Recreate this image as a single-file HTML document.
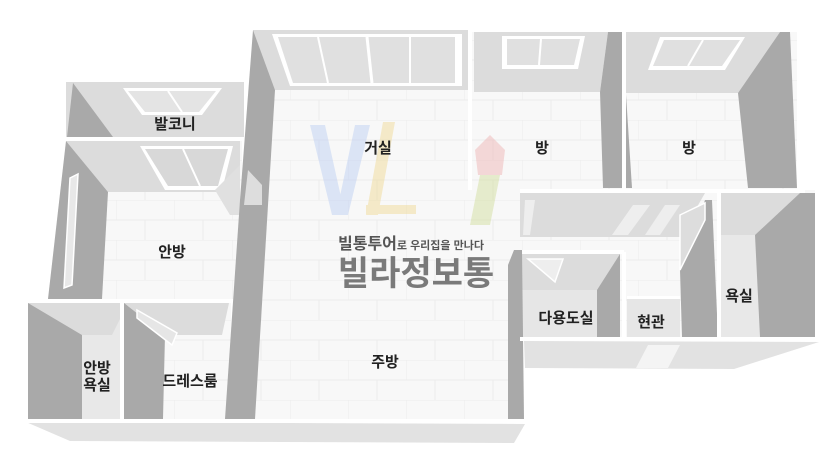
<!DOCTYPE html>
<html><head><meta charset="utf-8"><style>
html,body{margin:0;padding:0;background:#fff;width:840px;height:472px;overflow:hidden}
svg{display:block}
text{font-family:"Liberation Sans","Noto Sans CJK KR",sans-serif;font-weight:bold;fill:#222}
</style></head><body>
<svg width="840" height="472" viewBox="0 0 840 472" xmlns="http://www.w3.org/2000/svg">
<defs>
<pattern id="tile" width="58" height="40" patternUnits="userSpaceOnUse">
<rect width="58" height="40" fill="#f8f8f8"/>
<path d="M0 0H58M0 20H58M0 0V20M29 20V40" stroke="#ececec" stroke-width="1" fill="none"/>
</pattern>
</defs>
<!-- floors -->
<rect x="66" y="82" width="180" height="55" fill="#dcdcdc"/>
<polygon points="66,141 242,141 242,299 48,299" fill="url(#tile)"/>
<polygon points="253,30 470,30 470,190 520,190 520,420 225,420 240,200" fill="url(#tile)"/>
<rect x="470" y="32" width="327" height="160" fill="url(#tile)"/>
<rect x="520" y="190" width="295" height="150" fill="url(#tile)"/>
<rect x="28" y="302" width="203" height="120" fill="url(#tile)"/>
<!-- balcony -->
<polygon points="73,83 67,137 113,137" fill="#a9a9a9"/>
<polygon points="123,88 222,88 202,115 142,115" fill="#fff"/>
<polygon points="128,91 216,91 199,112 145,112" fill="#e4e4e4"/>
<line x1="168" y1="91" x2="182" y2="112" stroke="#fff" stroke-width="2"/>
<rect x="244" y="82" width="3" height="56" fill="#fff"/>
<!-- 안방 -->
<polygon points="66,141 240,141 240,192 108,192" fill="#dcdcdc"/>
<polygon points="66,141 108,192 102,299 48,299" fill="#a9a9a9"/>
<polygon points="70,178 78,174 72,285 64,288" fill="#e8e8e8" stroke="#fff" stroke-width="1.5"/>
<polygon points="140,146 233,146 222,190 165,190" fill="#fff"/>
<polygon points="145,149 228,149 218,186 168,186" fill="#d8d8d8"/>
<line x1="183" y1="149" x2="200" y2="186" stroke="#fff" stroke-width="2"/>
<polygon points="215,190 240,165 240,215 230,215" fill="#e0e0e0"/>
<!-- living wall -->
<polygon points="253,30 470,30 470,90 275,90" fill="#dcdcdc"/>
<polygon points="253,30 275,90 255,419 225,419 240,200" fill="#a9a9a9"/>
<polygon points="248,170 262,185 262,205 244,205" fill="#ddd"/>
<polygon points="272,34 462,34 462,86 290,86" fill="#fff"/>
<polygon points="278,37 455,37 455,83 293,83" fill="#e0e0e0"/>
<line x1="318" y1="37" x2="328" y2="83" stroke="#fff" stroke-width="2"/>
<line x1="367" y1="37" x2="372" y2="83" stroke="#fff" stroke-width="3"/>
<line x1="410" y1="37" x2="410" y2="83" stroke="#fff" stroke-width="2"/>
<rect x="468" y="30" width="4" height="160" fill="#fff"/>
<!-- 방1 -->
<polygon points="474,32 608,32 600,92 474,92" fill="#dcdcdc"/>
<polygon points="608,32 622,32 632,188 603,188 600,92" fill="#a9a9a9"/>
<polygon points="502,36 585,36 578,69 502,69" fill="#fff"/>
<polygon points="507,39 580,39 574,65 507,65" fill="#e0e0e0"/>
<line x1="541" y1="39" x2="539" y2="65" stroke="#fff" stroke-width="2"/>
<rect x="622" y="32" width="4" height="158" fill="#fff"/>
<!-- 방2 -->
<polygon points="626,32 780,32 738,93 626,93" fill="#dcdcdc"/>
<polygon points="780,32 790,32 797,188 748,188 738,93" fill="#a9a9a9"/>
<polygon points="660,37 745,37 725,70 648,70" fill="#fff"/>
<polygon points="664,40 740,40 722,66 653,66" fill="#e0e0e0"/>
<line x1="703" y1="40" x2="688" y2="66" stroke="#fff" stroke-width="2"/>
<!-- middle strip -->
<rect x="520" y="189" width="285" height="4" fill="#fff"/>
<polygon points="520,193 705,193 680,237 520,237" fill="#dcdcdc"/>
<polygon points="525,200 523,235 530,235 535,200" fill="#eee"/>
<polygon points="633,205 650,205 628,235 612,235" fill="#eee"/>
<polygon points="665,205 680,205 660,235 645,235" fill="#eee"/>
<!-- 다용도실 -->
<rect x="518" y="250" width="106" height="4" fill="#fff"/>
<rect x="520" y="254" width="100" height="83" fill="#e6e6e6"/>
<polygon points="520,254 620,254 597,290 520,290" fill="#dcdcdc"/>
<polygon points="620,254 620,337 597,337 597,290" fill="#a9a9a9"/>
<polygon points="528,259 563,259 555,282" fill="#eee" stroke="#fff" stroke-width="1.5"/>
<rect x="622" y="252" width="4" height="86" fill="#fff"/>
<!-- 현관 -->
<rect x="627" y="298" width="53" height="40" fill="#e6e6e6"/>
<rect x="627" y="296" width="53" height="3" fill="#fff"/>
<polygon points="705,200 712,200 718,337 682,337 680,270" fill="#a9a9a9"/>
<polygon points="680,215 705,203 705,220 680,270" fill="#ddd" stroke="#fff" stroke-width="1.5"/>
<!-- 욕실 -->
<rect x="717" y="193" width="4" height="145" fill="#fff"/>
<rect x="721" y="193" width="94" height="145" fill="#e8e8e8"/>
<polygon points="721,193 800,193 755,235 721,235" fill="#dcdcdc"/>
<polygon points="800,193 815,193 815,337 760,337 755,235" fill="#a9a9a9"/>
<!-- kitchen right wall -->
<polygon points="514,250 522,250 524,419 508,419 508,265" fill="#a9a9a9"/>
<!-- 안방욕실 / 드레스룸 -->
<rect x="20" y="299" width="212" height="4" fill="#fff"/>
<rect x="28" y="303" width="100" height="116" fill="#e8e8e8"/>
<polygon points="28,303 128,303 112,335 82,335" fill="#dcdcdc"/>
<polygon points="28,303 82,335 82,419 28,419" fill="#a9a9a9"/>
<rect x="120" y="303" width="4" height="116" fill="#fff"/>
<polygon points="124,303 229,303 222,335 165,335" fill="#dcdcdc"/>
<polygon points="124,303 165,335 163,419 124,419" fill="#a9a9a9"/>
<polygon points="137,310 177,333 172,345 137,318" fill="#e6e6e6" stroke="#fff" stroke-width="1.5"/>
<!-- front walls -->
<polygon points="26,422 525,424 514,443 70,441" fill="#e2e2e2"/>
<rect x="20" y="419" width="505" height="4" fill="#fff"/>
<polygon points="524,341 819,342 734,369 525,368" fill="#e2e2e2"/>
<rect x="520" y="337" width="298" height="4" fill="#fff"/>
<polygon points="648,345 680,345 668,368 636,368" fill="#f4f4f4"/>
<!-- watermark logo -->
<g opacity="0.45">
<polygon points="310,125 325,125 345,215 332,215" fill="#b8cdf2"/>
<polygon points="355,125 370,125 348,215 336,215" fill="#b8cdf2"/>
<polygon points="383,122 395,122 378,215 366,215" fill="#f0d890"/>
<rect x="366" y="205" width="50" height="9" fill="#f0d890"/>
<polygon points="475,150 490,135 505,150 502,175 478,175" fill="#eeb0b0"/>
<polygon points="480,175 500,175 490,225 470,225" fill="#d0dc98"/>
</g>
<!-- labels -->
<text x="175" y="129" font-size="15" text-anchor="middle">발코니</text>
<text x="378" y="153" font-size="15" text-anchor="middle">거실</text>
<text x="542" y="153" font-size="15" text-anchor="middle">방</text>
<text x="689" y="153" font-size="15" text-anchor="middle">방</text>
<text x="172" y="257" font-size="15" text-anchor="middle">안방</text>
<text x="385" y="367" font-size="15" text-anchor="middle">주방</text>
<text x="97" y="373" font-size="15" text-anchor="middle">안방</text>
<text x="97" y="390" font-size="15" text-anchor="middle">욕실</text>
<text x="190" y="386" font-size="15" text-anchor="middle">드레스룸</text>
<text x="566" y="323" font-size="15" text-anchor="middle">다용도실</text>
<text x="651" y="327" font-size="15" text-anchor="middle">현관</text>
<text x="739" y="301" font-size="15" text-anchor="middle">욕실</text>
<text x="338" y="249" font-size="16" style="fill:#555">빌통투어<tspan font-size="11">로 우리집을 만나다</tspan></text>
<text x="416" y="285" font-size="34" text-anchor="middle" style="fill:#7a7a7a">빌라정보통</text>
</svg>
</body></html>
